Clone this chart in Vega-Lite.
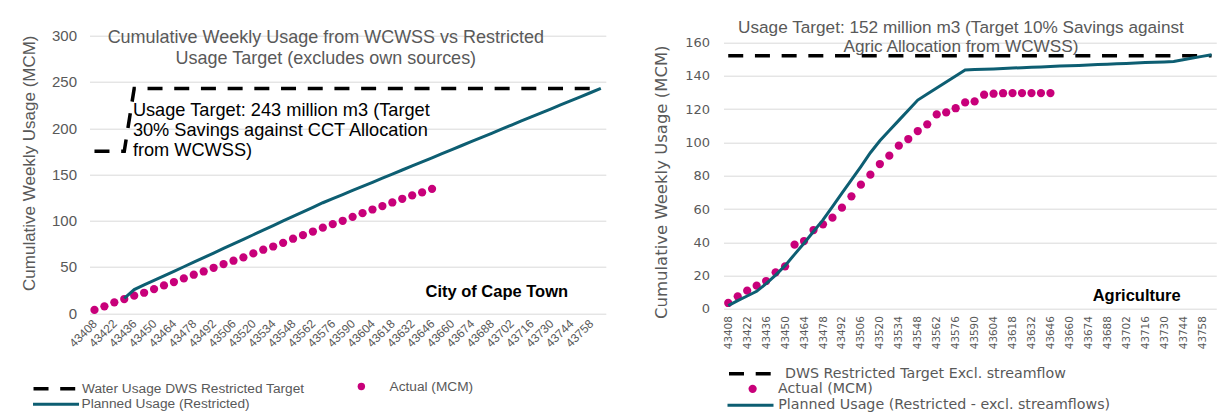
{
"$schema": "https://vega.github.io/schema/vega-lite/v6.json",
"background": "white",
"padding": {"left": 19.5, "top": 18.7, "right": 5, "bottom": 0},
"spacing": 45,
"config": {
  "view": {"stroke": null},
  "axis": {"labelColor": "#595959", "titleColor": "#595959", "gridColor": "#d9d9d9", "gridWidth": 1, "domain": false, "ticks": false, "titleFontWeight": "normal"},
  "legend": {"labelLimit": 0}
},
"resolve": {
  "scale": {"color": "independent", "shape": "independent", "strokeDash": "independent"},
  "legend": {"color": "independent", "shape": "independent", "strokeDash": "independent"}
},
"datasets": {
"ct": [
{"week":43408,"series":"Target","mcm":175},{"week":43415,"series":"Target","mcm":175},{"week":43422,"series":"Target","mcm":175},{"week":43429,"series":"Target","mcm":175},{"week":43436,"series":"Target","mcm":243},{"week":43443,"series":"Target","mcm":243},{"week":43450,"series":"Target","mcm":243},{"week":43457,"series":"Target","mcm":243},{"week":43464,"series":"Target","mcm":243},{"week":43471,"series":"Target","mcm":243},{"week":43478,"series":"Target","mcm":243},{"week":43485,"series":"Target","mcm":243},{"week":43492,"series":"Target","mcm":243},{"week":43499,"series":"Target","mcm":243},{"week":43506,"series":"Target","mcm":243},{"week":43513,"series":"Target","mcm":243},{"week":43520,"series":"Target","mcm":243},{"week":43527,"series":"Target","mcm":243},{"week":43534,"series":"Target","mcm":243},{"week":43541,"series":"Target","mcm":243},{"week":43548,"series":"Target","mcm":243},{"week":43555,"series":"Target","mcm":243},{"week":43562,"series":"Target","mcm":243},{"week":43569,"series":"Target","mcm":243},{"week":43576,"series":"Target","mcm":243},{"week":43583,"series":"Target","mcm":243},{"week":43590,"series":"Target","mcm":243},{"week":43597,"series":"Target","mcm":243},{"week":43604,"series":"Target","mcm":243},{"week":43611,"series":"Target","mcm":243},{"week":43618,"series":"Target","mcm":243},{"week":43625,"series":"Target","mcm":243},{"week":43632,"series":"Target","mcm":243},{"week":43639,"series":"Target","mcm":243},{"week":43646,"series":"Target","mcm":243},{"week":43653,"series":"Target","mcm":243},{"week":43660,"series":"Target","mcm":243},{"week":43667,"series":"Target","mcm":243},{"week":43674,"series":"Target","mcm":243},{"week":43681,"series":"Target","mcm":243},{"week":43688,"series":"Target","mcm":243},{"week":43695,"series":"Target","mcm":243},{"week":43702,"series":"Target","mcm":243},{"week":43709,"series":"Target","mcm":243},{"week":43716,"series":"Target","mcm":243},{"week":43723,"series":"Target","mcm":243},{"week":43730,"series":"Target","mcm":243},{"week":43737,"series":"Target","mcm":243},{"week":43744,"series":"Target","mcm":243},{"week":43751,"series":"Target","mcm":243},{"week":43758,"series":"Target","mcm":243},{"week":43765,"series":"Target","mcm":243},
{"week":43408,"series":"Actual","mcm":3.5},{"week":43415,"series":"Actual","mcm":7.4},{"week":43422,"series":"Actual","mcm":11.7},{"week":43429,"series":"Actual","mcm":15.3},{"week":43436,"series":"Actual","mcm":18.9},{"week":43443,"series":"Actual","mcm":22.1},{"week":43450,"series":"Actual","mcm":26.1},{"week":43457,"series":"Actual","mcm":30.0},{"week":43464,"series":"Actual","mcm":33.7},{"week":43471,"series":"Actual","mcm":37.6},{"week":43478,"series":"Actual","mcm":41.6},{"week":43485,"series":"Actual","mcm":45.1},{"week":43492,"series":"Actual","mcm":49.1},{"week":43499,"series":"Actual","mcm":53.1},{"week":43506,"series":"Actual","mcm":56.7},{"week":43513,"series":"Actual","mcm":60.3},{"week":43520,"series":"Actual","mcm":64.6},{"week":43527,"series":"Actual","mcm":68.6},{"week":43534,"series":"Actual","mcm":72.1},{"week":43541,"series":"Actual","mcm":76.1},{"week":43548,"series":"Actual","mcm":80.5},{"week":43555,"series":"Actual","mcm":84.4},{"week":43562,"series":"Actual","mcm":88.3},{"week":43569,"series":"Actual","mcm":92.5},{"week":43576,"series":"Actual","mcm":96.3},{"week":43583,"series":"Actual","mcm":99.9},{"week":43590,"series":"Actual","mcm":104.2},{"week":43597,"series":"Actual","mcm":108.1},{"week":43604,"series":"Actual","mcm":112.1},{"week":43611,"series":"Actual","mcm":115.8},{"week":43618,"series":"Actual","mcm":119.7},{"week":43625,"series":"Actual","mcm":123.7},{"week":43632,"series":"Actual","mcm":127.3},{"week":43639,"series":"Actual","mcm":130.6},{"week":43646,"series":"Actual","mcm":134.4},
{"week":43429,"series":"Planned","mcm":16.0},{"week":43436,"series":"Planned","mcm":25.5},{"week":43443,"series":"Planned","mcm":30.5},{"week":43450,"series":"Planned","mcm":35.4},{"week":43457,"series":"Planned","mcm":40.3},{"week":43464,"series":"Planned","mcm":45.3},{"week":43471,"series":"Planned","mcm":50.2},{"week":43478,"series":"Planned","mcm":55.1},{"week":43485,"series":"Planned","mcm":60.1},{"week":43492,"series":"Planned","mcm":65.0},{"week":43499,"series":"Planned","mcm":70.0},{"week":43506,"series":"Planned","mcm":74.9},{"week":43513,"series":"Planned","mcm":79.9},{"week":43520,"series":"Planned","mcm":84.8},{"week":43527,"series":"Planned","mcm":89.8},{"week":43534,"series":"Planned","mcm":94.7},{"week":43541,"series":"Planned","mcm":99.7},{"week":43548,"series":"Planned","mcm":104.6},{"week":43555,"series":"Planned","mcm":109.5},{"week":43562,"series":"Planned","mcm":114.5},{"week":43569,"series":"Planned","mcm":119.4},{"week":43576,"series":"Planned","mcm":123.9},{"week":43583,"series":"Planned","mcm":128.3},{"week":43590,"series":"Planned","mcm":132.7},{"week":43597,"series":"Planned","mcm":137.1},{"week":43604,"series":"Planned","mcm":141.5},{"week":43611,"series":"Planned","mcm":146.0},{"week":43618,"series":"Planned","mcm":150.4},{"week":43625,"series":"Planned","mcm":154.8},{"week":43632,"series":"Planned","mcm":159.2},{"week":43639,"series":"Planned","mcm":163.6},{"week":43646,"series":"Planned","mcm":168.0},{"week":43653,"series":"Planned","mcm":172.5},{"week":43660,"series":"Planned","mcm":176.9},{"week":43667,"series":"Planned","mcm":181.3},{"week":43674,"series":"Planned","mcm":185.7},{"week":43681,"series":"Planned","mcm":190.1},{"week":43688,"series":"Planned","mcm":194.5},{"week":43695,"series":"Planned","mcm":199.0},{"week":43702,"series":"Planned","mcm":203.4},{"week":43709,"series":"Planned","mcm":207.8},{"week":43716,"series":"Planned","mcm":212.2},{"week":43723,"series":"Planned","mcm":216.6},{"week":43730,"series":"Planned","mcm":221.0},{"week":43737,"series":"Planned","mcm":225.4},{"week":43744,"series":"Planned","mcm":229.8},{"week":43751,"series":"Planned","mcm":234.2},{"week":43758,"series":"Planned","mcm":238.6},{"week":43765,"series":"Planned","mcm":243.0}
],
"ag": [
{"week":43408,"series":"Target","mcm":152},{"week":43415,"series":"Target","mcm":152},{"week":43422,"series":"Target","mcm":152},{"week":43429,"series":"Target","mcm":152},{"week":43436,"series":"Target","mcm":152},{"week":43443,"series":"Target","mcm":152},{"week":43450,"series":"Target","mcm":152},{"week":43457,"series":"Target","mcm":152},{"week":43464,"series":"Target","mcm":152},{"week":43471,"series":"Target","mcm":152},{"week":43478,"series":"Target","mcm":152},{"week":43485,"series":"Target","mcm":152},{"week":43492,"series":"Target","mcm":152},{"week":43499,"series":"Target","mcm":152},{"week":43506,"series":"Target","mcm":152},{"week":43513,"series":"Target","mcm":152},{"week":43520,"series":"Target","mcm":152},{"week":43527,"series":"Target","mcm":152},{"week":43534,"series":"Target","mcm":152},{"week":43541,"series":"Target","mcm":152},{"week":43548,"series":"Target","mcm":152},{"week":43555,"series":"Target","mcm":152},{"week":43562,"series":"Target","mcm":152},{"week":43569,"series":"Target","mcm":152},{"week":43576,"series":"Target","mcm":152},{"week":43583,"series":"Target","mcm":152},{"week":43590,"series":"Target","mcm":152},{"week":43597,"series":"Target","mcm":152},{"week":43604,"series":"Target","mcm":152},{"week":43611,"series":"Target","mcm":152},{"week":43618,"series":"Target","mcm":152},{"week":43625,"series":"Target","mcm":152},{"week":43632,"series":"Target","mcm":152},{"week":43639,"series":"Target","mcm":152},{"week":43646,"series":"Target","mcm":152},{"week":43653,"series":"Target","mcm":152},{"week":43660,"series":"Target","mcm":152},{"week":43667,"series":"Target","mcm":152},{"week":43674,"series":"Target","mcm":152},{"week":43681,"series":"Target","mcm":152},{"week":43688,"series":"Target","mcm":152},{"week":43695,"series":"Target","mcm":152},{"week":43702,"series":"Target","mcm":152},{"week":43709,"series":"Target","mcm":152},{"week":43716,"series":"Target","mcm":152},{"week":43723,"series":"Target","mcm":152},{"week":43730,"series":"Target","mcm":152},{"week":43737,"series":"Target","mcm":152},{"week":43744,"series":"Target","mcm":152},{"week":43751,"series":"Target","mcm":152},{"week":43758,"series":"Target","mcm":152},{"week":43765,"series":"Target","mcm":152},
{"week":43408,"series":"Actual","mcm":3.6},{"week":43415,"series":"Actual","mcm":7.6},{"week":43422,"series":"Actual","mcm":11.0},{"week":43429,"series":"Actual","mcm":14.0},{"week":43436,"series":"Actual","mcm":16.8},{"week":43443,"series":"Actual","mcm":22.0},{"week":43450,"series":"Actual","mcm":25.6},{"week":43457,"series":"Actual","mcm":38.6},{"week":43464,"series":"Actual","mcm":40.8},{"week":43471,"series":"Actual","mcm":47.4},{"week":43478,"series":"Actual","mcm":50.8},{"week":43485,"series":"Actual","mcm":54.8},{"week":43492,"series":"Actual","mcm":60.8},{"week":43499,"series":"Actual","mcm":67.6},{"week":43506,"series":"Actual","mcm":74.6},{"week":43513,"series":"Actual","mcm":80.6},{"week":43520,"series":"Actual","mcm":87.0},{"week":43527,"series":"Actual","mcm":92.0},{"week":43534,"series":"Actual","mcm":98.0},{"week":43541,"series":"Actual","mcm":102.0},{"week":43548,"series":"Actual","mcm":106.8},{"week":43555,"series":"Actual","mcm":110.8},{"week":43562,"series":"Actual","mcm":116.8},{"week":43569,"series":"Actual","mcm":118.0},{"week":43576,"series":"Actual","mcm":120.5},{"week":43583,"series":"Actual","mcm":124.0},{"week":43590,"series":"Actual","mcm":124.6},{"week":43597,"series":"Actual","mcm":128.6},{"week":43604,"series":"Actual","mcm":129.2},{"week":43611,"series":"Actual","mcm":129.5},{"week":43618,"series":"Actual","mcm":129.6},{"week":43625,"series":"Actual","mcm":129.6},{"week":43632,"series":"Actual","mcm":129.6},{"week":43639,"series":"Actual","mcm":129.6},{"week":43646,"series":"Actual","mcm":129.6},
{"week":43408,"series":"Planned","mcm":2.0},{"week":43415,"series":"Planned","mcm":5.0},{"week":43422,"series":"Planned","mcm":7.8},{"week":43429,"series":"Planned","mcm":10.6},{"week":43436,"series":"Planned","mcm":15.2},{"week":43443,"series":"Planned","mcm":20.3},{"week":43450,"series":"Planned","mcm":26.0},{"week":43457,"series":"Planned","mcm":32.8},{"week":43464,"series":"Planned","mcm":39.5},{"week":43471,"series":"Planned","mcm":46.5},{"week":43478,"series":"Planned","mcm":53.5},{"week":43485,"series":"Planned","mcm":61.5},{"week":43492,"series":"Planned","mcm":69.5},{"week":43499,"series":"Planned","mcm":77.5},{"week":43506,"series":"Planned","mcm":85.5},{"week":43513,"series":"Planned","mcm":93.8},{"week":43520,"series":"Planned","mcm":101.0},{"week":43527,"series":"Planned","mcm":107.1},{"week":43534,"series":"Planned","mcm":113.2},{"week":43541,"series":"Planned","mcm":119.3},{"week":43548,"series":"Planned","mcm":125.4},{"week":43555,"series":"Planned","mcm":129.0},{"week":43562,"series":"Planned","mcm":132.6},{"week":43569,"series":"Planned","mcm":136.2},{"week":43576,"series":"Planned","mcm":139.8},{"week":43583,"series":"Planned","mcm":143.4},{"week":43590,"series":"Planned","mcm":143.7},{"week":43597,"series":"Planned","mcm":143.9},{"week":43604,"series":"Planned","mcm":144.1},{"week":43611,"series":"Planned","mcm":144.4},{"week":43618,"series":"Planned","mcm":144.6},{"week":43625,"series":"Planned","mcm":144.8},{"week":43632,"series":"Planned","mcm":145.1},{"week":43639,"series":"Planned","mcm":145.3},{"week":43646,"series":"Planned","mcm":145.5},{"week":43653,"series":"Planned","mcm":145.8},{"week":43660,"series":"Planned","mcm":146.0},{"week":43667,"series":"Planned","mcm":146.2},{"week":43674,"series":"Planned","mcm":146.5},{"week":43681,"series":"Planned","mcm":146.7},{"week":43688,"series":"Planned","mcm":146.9},{"week":43695,"series":"Planned","mcm":147.2},{"week":43702,"series":"Planned","mcm":147.4},{"week":43709,"series":"Planned","mcm":147.6},{"week":43716,"series":"Planned","mcm":147.9},{"week":43723,"series":"Planned","mcm":148.1},{"week":43730,"series":"Planned","mcm":148.3},{"week":43737,"series":"Planned","mcm":148.6},{"week":43744,"series":"Planned","mcm":149.6},{"week":43751,"series":"Planned","mcm":150.6},{"week":43758,"series":"Planned","mcm":151.6},{"week":43765,"series":"Planned","mcm":152.6}
]
},
"hconcat": [
{
  "width": 516.3, "height": 277.5,
  "data": {"name": "ct"},
  "encoding": {
    "x": {"field": "week", "type": "ordinal", "scale": {"type": "point", "padding": 0.5},
      "axis": {"title": null, "values": [43408,43422,43436,43450,43464,43478,43492,43506,43520,43534,43548,43562,43576,43590,43604,43618,43632,43646,43660,43674,43688,43702,43716,43730,43744,43758],
        "labelAngle": -45, "labelAlign": "right", "labelBaseline": "middle", "labelFont": "Liberation Sans", "labelFontSize": 12, "labelPadding": 8, "labelOverlap": false, "grid": false}},
    "y": {"field": "mcm", "type": "quantitative", "scale": {"domain": [0, 300], "nice": false},
      "axis": {"values": [0,50,100,150,200,250,300], "grid": true, "labelFont": "Liberation Sans", "labelFontSize": 15, "labelPadding": 13,
        "title": "Cumulative Weekly Usage (MCM)", "titleFont": "Liberation Sans", "titleFontSize": 17, "titlePadding": 13, "titleY": 127}}
  },
  "layer": [
    {"transform": [{"filter": "datum.series === 'Target'"}],
     "mark": {"type": "line", "color": "black", "strokeWidth": 3.5, "strokeCap": "butt"},
     "encoding": {"strokeDash": {"datum": "Water Usage DWS Restricted Target", "scale": {"range": [[15, 11.7]]},
       "legend": {"orient": "none", "legendX": -58, "legendY": 328, "title": null, "padding": 0, "symbolType": "stroke", "symbolSize": 2116, "symbolStrokeWidth": 3.5, "symbolStrokeColor": "black",
         "labelFont": "Liberation Sans", "labelFontSize": 13.7, "labelColor": "#595959", "labelOffset": 0.5}}}},
    {"transform": [{"filter": "datum.series === 'Actual'"}],
     "mark": {"type": "point", "filled": true, "size": 68, "color": "#c8007a", "opacity": 1, "strokeWidth": 0},
     "encoding": {"shape": {"datum": "Actual (MCM)", "scale": {"range": ["circle"]},
       "legend": {"orient": "none", "legendX": 265, "legendY": 344, "title": null, "padding": 0, "symbolSize": 55, "symbolFillColor": "#c8007a", "symbolStrokeColor": "#c8007a", "symbolStrokeWidth": 0, "symbolOpacity": 1,
         "labelFont": "Liberation Sans", "labelFontSize": 13.7, "labelColor": "#595959", "labelOffset": 21.3}}}},
    {"transform": [{"filter": "datum.series === 'Planned'"}],
     "mark": {"type": "line", "strokeWidth": 3},
     "encoding": {"color": {"datum": "Planned Usage (Restricted)", "scale": {"range": ["#0d5e72"]},
       "legend": {"orient": "none", "legendX": -58, "legendY": 344, "title": null, "padding": 0, "symbolType": "stroke", "symbolSize": 2116, "symbolStrokeWidth": 3,
         "labelFont": "Liberation Sans", "labelFontSize": 13.7, "labelColor": "#595959", "labelOffset": 1}}}},
    {"transform": [{"filter": "datum.series === 'Target' && datum.week === 43569"}],
     "mark": {"type": "text", "text": ["Cumulative Weekly Usage from WCWSS vs Restricted", "Usage Target (excludes own sources)"], "font": "Liberation Sans", "fontSize": 18, "color": "#595959", "align": "center", "baseline": "alphabetic", "lineHeight": 21.6, "dx": 3},
     "encoding": {"y": {"datum": 292.4}}},
    {"transform": [{"filter": "datum.series === 'Target' && datum.week === 43436"}],
     "mark": {"type": "text", "text": ["Usage Target: 243 million m3 (Target", "30% Savings against CCT Allocation", "from WCWSS)"], "font": "Liberation Sans", "fontSize": 18.2, "color": "black", "align": "left", "baseline": "alphabetic", "lineHeight": 20.3, "dx": -1.3},
     "encoding": {"y": {"datum": 213.3}}},
    {"transform": [{"filter": "datum.series === 'Target' && datum.week === 43744"}],
     "mark": {"type": "text", "text": "City of Cape Town", "font": "Liberation Sans", "fontSize": 16.5, "fontWeight": "bold", "color": "black", "align": "right", "baseline": "alphabetic", "dx": -3},
     "encoding": {"y": {"datum": 17.8}}}
  ]
},
{
  "width": 492.8, "height": 277.5,
  "data": {"name": "ag"},
  "encoding": {
    "x": {"field": "week", "type": "ordinal", "scale": {"type": "point", "padding": 0.5},
      "axis": {"title": null, "values": [43408,43422,43436,43450,43464,43478,43492,43506,43520,43534,43548,43562,43576,43590,43604,43618,43632,43646,43660,43674,43688,43702,43716,43730,43744,43758],
        "labelAngle": -90, "labelAlign": "right", "labelBaseline": "middle", "labelFont": "DejaVu Sans", "labelFontSize": 10.4, "labelPadding": 2.5, "labelOverlap": false, "grid": false}},
    "y": {"field": "mcm", "type": "quantitative", "scale": {"domain": [-2.52, 164.02], "nice": false, "zero": false},
      "axis": {"values": [0,20,40,60,80,100,120,140,160], "grid": true, "labelFont": "DejaVu Sans", "labelFontSize": 13, "labelPadding": 14,
        "title": "Cumulative Weekly Usage (MCM)", "titleFont": "DejaVu Sans", "titleFontSize": 16.5, "titlePadding": 15, "titleY": 146}}
  },
  "layer": [
    {"transform": [{"filter": "datum.series === 'Target'"}],
     "mark": {"type": "line", "color": "black", "strokeWidth": 3.5, "strokeCap": "butt"},
     "encoding": {"strokeDash": {"datum": "DWS Restricted Target Excl. streamflow", "scale": {"range": [[15, 11.7]]},
       "legend": {"orient": "none", "legendX": 3.5, "legendY": 315, "title": null, "padding": 0, "symbolType": "stroke", "symbolSize": 1764, "symbolStrokeWidth": 3.5, "symbolStrokeColor": "black",
         "labelFont": "DejaVu Sans", "labelFontSize": 14.25, "labelColor": "#595959", "labelOffset": 12}}}},
    {"transform": [{"filter": "datum.series === 'Actual'"}],
     "mark": {"type": "point", "filled": true, "size": 68, "color": "#c8007a", "opacity": 1, "strokeWidth": 0},
     "encoding": {"shape": {"datum": "Actual (MCM)", "scale": {"range": ["circle"]},
       "legend": {"orient": "none", "legendX": 22, "legendY": 346, "title": null, "padding": 0, "symbolSize": 68, "symbolFillColor": "#c8007a", "symbolStrokeColor": "#c8007a", "symbolStrokeWidth": 0, "symbolOpacity": 1,
         "labelFont": "DejaVu Sans", "labelFontSize": 14.25, "labelColor": "#595959", "labelOffset": 18.3}}}},
    {"transform": [{"filter": "datum.series === 'Planned'"}],
     "mark": {"type": "line", "strokeWidth": 3},
     "encoding": {"color": {"datum": "Planned Usage (Restricted - excl. streamflows)", "scale": {"range": ["#0d5e72"]},
       "legend": {"orient": "none", "legendX": 2.5, "legendY": 345, "title": null, "padding": 0, "symbolType": "stroke", "symbolSize": 2116, "symbolStrokeWidth": 3,
         "labelFont": "DejaVu Sans", "labelFontSize": 14.25, "labelColor": "#595959", "labelOffset": 3.2}}}},
    {"transform": [{"filter": "datum.series === 'Target' && datum.week === 43583"}],
     "mark": {"type": "text", "text": ["Usage Target: 152 million m3 (Target 10% Savings against", "Agric Allocation from WCWSS)"], "font": "Liberation Sans", "fontSize": 17.2, "color": "#595959", "align": "center", "baseline": "alphabetic", "lineHeight": 19.4, "dx": -4.2},
     "encoding": {"y": {"datum": 165.6}}},
    {"transform": [{"filter": "datum.series === 'Target' && datum.week === 43744"}],
     "mark": {"type": "text", "text": "Agriculture", "font": "Liberation Sans", "fontSize": 16.5, "fontWeight": "bold", "color": "black", "align": "right", "baseline": "alphabetic", "dx": -2.5},
     "encoding": {"y": {"datum": 5.0}}}
  ]
}
]
}
